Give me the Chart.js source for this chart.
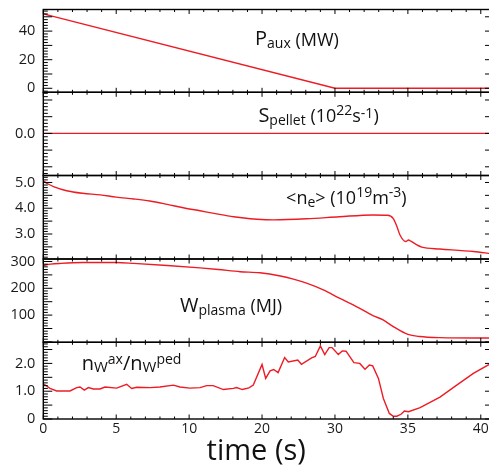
<!DOCTYPE html>
<html>
<head>
<meta charset="utf-8">
<script src="https://cdn.jsdelivr.net/npm/chart.js@4.4.1/dist/chart.umd.min.js"></script>
<style>
  html, body { margin: 0; padding: 0; overflow: hidden; background: #fff; }
  canvas { display: block; }
</style>
</head>
<body>
<canvas id="traces" width="495" height="470"></canvas>
<script>
// labelled time ticks sit at equal spacing along the axis
const timeTicks = [0, 5, 10, 20, 30, 35, 40];
const timeEnd = 40.7;

// y tick labels per panel (top to bottom)
const pauxTicks = ['0', '20', '40'];
const pelletTicks = ['0.0'];
const neTicks = ['3.0', '4.0', '5.0'];
const wTicks = ['100', '200', '300'];
const nwTicks = ['0', '1.0', '2.0'];

// auxiliary heating power, MW
const pauxTime = [0, 30, 40.7];
const pauxValues = [52, 0, 0];

// pellet source, 1e22 /s
const pelletTime = [0, 40.7];
const pelletValues = [0, 0];

// line averaged density, 1e19 m^-3
const neTime = [0, 0.3, 0.7, 1.6, 2.7, 3.9, 5.0, 6.2, 7.3, 8.5, 9.6, 11.5, 13.8, 16.1, 18.4, 19.3,
  21.6, 26.1, 30.3, 32.6, 33.6, 34.0, 34.25, 34.45, 34.85, 35.05, 35.2, 35.95, 37.2, 39.5, 40.7];
const neValues = [5.06, 4.95, 4.84, 4.68, 4.58, 4.52, 4.43, 4.36, 4.28, 4.15, 4.02, 3.90, 3.78, 3.67, 3.59, 3.57,
  3.55, 3.59, 3.67, 3.74, 3.73, 3.60, 3.29, 2.97, 2.71, 2.77, 2.72, 2.49, 2.42, 2.32, 2.24];

// plasma stored energy, MJ
const wTime = [0, 0.5, 1.2, 2.7, 5.0, 6.2, 8.5, 11.5, 14.0, 17.0, 19.7, 22.5, 24.3, 26.1, 28.4, 30.3,
  31.5, 32.6, 33.3, 34.0, 35.0, 35.8, 37.2, 40.7];
const wValues = [285, 290, 293, 296, 296, 293, 285, 276, 270, 262, 258, 246, 234, 219, 194, 163,
  131, 98, 82, 57, 28, 20, 16, 14.5];

// tungsten peaking, axis / pedestal
const nwTime = [0, 0.46, 0.92, 1.83, 2.29, 2.52, 2.81, 3.09, 3.43, 3.89, 4.23, 5.03, 5.72, 6.06, 6.41, 7.32,
  8.0, 8.92, 9.37, 10.1, 11.5, 12.4, 13.3, 14.7, 16.06, 16.5, 17.3, 18.2, 18.8, 20.0, 20.5, 21.1,
  21.6, 22.2, 23.1, 23.6, 24.9, 25.4, 26.8, 27.3, 28.0, 28.6, 29.2, 29.6, 30.23, 30.5, 30.76, 31.3,
  31.7, 32.06, 32.36, 32.59, 32.98, 33.32, 33.73, 34.0, 34.24, 34.53, 34.76, 35.04, 35.84, 37.2, 38.35,
  39.49, 40.7];
const nwValues = [1.27, 1.10, 1.01, 1.01, 1.13, 1.15, 1.04, 1.13, 1.08, 1.08, 1.15, 1.11, 1.25, 1.10, 1.14, 1.13,
  1.15, 1.22, 1.15, 1.11, 1.13, 1.20, 1.20, 1.06, 1.10, 1.13, 1.06, 1.12, 1.22, 1.96, 1.46, 1.73,
  1.78, 1.67, 2.21, 2.05, 2.12, 1.97, 2.20, 2.25, 2.63, 2.32, 2.57, 2.57, 2.32, 2.45, 2.44, 2.03,
  2.00, 1.79, 1.94, 1.91, 1.46, 0.74, 0.20, 0.10, 0.10, 0.17, 0.29, 0.26, 0.41, 0.79, 1.22,
  1.64, 2.00];

const RED = '#ed1c24';
const FONT = '"Open Sans", "Noto Sans", sans-serif';

// piecewise map from seconds to tick slots (one slot per labelled tick)
function timeToAxis(t) {
  const n = timeTicks.length;
  for (let i = 1; i < n; i++) {
    if (t <= timeTicks[i] || i === n - 1) {
      return i - 1 + (t - timeTicks[i - 1]) / (timeTicks[i] - timeTicks[i - 1]);
    }
  }
}

function series(axis, times, values, smooth) {
  return {
    yAxisID: axis,
    data: times.map((t, i) => ({ x: timeToAxis(t), y: values[i] })),
    borderColor: RED,
    borderWidth: 1.4,
    pointRadius: 0,
    cubicInterpolationMode: smooth ? 'monotone' : 'default',
    tension: 0
  };
}

// no extra room for half-labels at the ends, the layout padding handles it
function noPadding(s) {
  s.paddingTop = 0;
  s.paddingBottom = 0;
  s.paddingLeft = 0;
  s.paddingRight = 0;
}

// tick mark spacing for each panel
const panelMarks = {
  y1: { major: 10, minor: 2 },
  y2: { major: 0.5, minor: 0.1 },
  y3: { major: 0.5, minor: 0.1 },
  y4: { major: 50, minor: 10 },
  y5: { major: 0.5, minor: 0.1 }
};

function panelAxis(labels, min, max, weight) {
  return {
    type: 'linear',
    position: 'left',
    stack: 'panels',
    stackWeight: weight,
    min: min,
    max: max,
    grid: { display: false, drawTicks: false },
    border: { display: false },
    afterBuildTicks: s => { s.ticks = labels.map(l => ({ value: Number(l) })); },
    afterFit: s => { s.width = 43.3; noPadding(s); },
    ticks: {
      callback: (v, i) => labels[i],
      padding: 8,
      color: '#1a1a1a',
      font: { family: FONT, size: 14.5 }
    }
  };
}

// panel labels: [axis, x slot, y value, parts of text with size and shift]
const panelLabels = [
  ['y1', 2.904, 30.3, [['P', 20, 0], ['aux', 14, 3], [' (MW)', 18, 1]]],
  ['y2', 2.95, 0.353, [['S', 20, 0], ['pellet', 14, 3], [' (10', 18, 0], ['22', 14, -7], ['s', 18, 0], ['-1', 14, -4], [')', 18, 0]]],
  ['y3', 3.33, 4.155, [['<n', 18, 0], ['e', 14, 3], ['> (10', 18, 0], ['19', 14, -7], ['m', 18, 0], ['-3', 14, -7], [')', 18, 0]]],
  ['y4', 1.875, 112.7, [['W', 20, 0], ['plasma', 14, 3], [' (MJ)', 18, 0]]],
  ['y5', 0.527, 1.755, [['n', 20, 0], ['W', 15, 2], ['ax', 14, -6], ['/n', 20, 0], ['W', 15, 2], ['ped', 14, -6]]]
];

const panelFrames = {
  id: 'panelFrames',
  afterDatasetsDraw(chart) {
    const ctx = chart.ctx;
    const area = chart.chartArea;
    const xs = chart.scales.x;
    ctx.save();
    ctx.strokeStyle = '#000';
    ctx.fillStyle = '#111';

    Object.keys(panelMarks).forEach(id => {
      const s = chart.scales[id];
      const m = panelMarks[id];

      // y ticks, left and right, pointing inward
      ctx.lineWidth = 1;
      ctx.beginPath();
      const k0 = Math.ceil(s.min / m.minor - 1e-6), k1 = Math.floor(s.max / m.minor + 1e-6);
      for (let k = k0; k <= k1; k++) {
        const v = k * m.minor;
        const r = v / m.major;
        const major = Math.abs(r - Math.round(r)) < 1e-6;
        const y = s.getPixelForValue(v);
        ctx.moveTo(area.left, y);
        ctx.lineTo(area.left + (major ? 9 : 4.5), y);
        if (major) {
          ctx.moveTo(area.right, y);
          ctx.lineTo(area.right - 6, y);
        }
      }
      // x ticks on top and bottom edges
      for (let k = 0; k <= Math.floor(xs.max / 0.2 + 1e-6); k++) {
        const u = k * 0.2;
        const major = k % 5 === 0;
        const x = xs.getPixelForValue(u);
        const len = major ? 4.5 : 2.5;
        ctx.moveTo(x, s.top);
        ctx.lineTo(x, s.top + len);
        ctx.moveTo(x, s.bottom);
        ctx.lineTo(x, s.bottom - len);
      }
      ctx.stroke();

      // frame
      ctx.lineWidth = 1.4;
      ctx.strokeRect(area.left, s.top, area.right - area.left, s.bottom - s.top);
    });

    // panel annotations
    ctx.textBaseline = 'alphabetic';
    ctx.textAlign = 'left';
    panelLabels.forEach(([id, u, v, parts]) => {
      let x = xs.getPixelForValue(u);
      const y = chart.scales[id].getPixelForValue(v);
      parts.forEach(([text, size, dy]) => {
        ctx.font = size + 'px ' + FONT;
        ctx.fillText(text, x, y + dy);
        x += ctx.measureText(text).width;
      });
    });

    // axis title
    ctx.font = '29px ' + FONT;
    ctx.textAlign = 'center';
    ctx.fillText('time (s)', xs.getPixelForValue(2.92), 460);
    ctx.restore();
  }
};

new Chart(document.getElementById('traces'), {
  type: 'line',
  data: {
    datasets: [
      series('y1', pauxTime, pauxValues, false),
      series('y2', pelletTime, pelletValues, false),
      series('y3', neTime, neValues, true),
      series('y4', wTime, wValues, true),
      series('y5', nwTime, nwValues, false)
    ]
  },
  options: {
    responsive: false,
    animation: false,
    layout: { padding: { top: 9.5, right: 4, left: 0, bottom: 0 } },
    plugins: { legend: { display: false }, tooltip: { enabled: false } },
    scales: {
      x: {
        type: 'linear',
        min: 0,
        max: timeToAxis(timeEnd),
        grid: { display: false, drawTicks: false },
        border: { display: false },
        afterBuildTicks: s => { s.ticks = timeTicks.map(t => ({ value: timeToAxis(t) })); },
        afterFit: s => { s.height = 51; noPadding(s); },
        ticks: {
          callback: (v, i) => String(timeTicks[i]),
          autoSkip: false,
          maxRotation: 0,
          padding: 2,
          color: '#1a1a1a',
          font: { family: FONT, size: 14 }
        }
      },
      // stacked bottom first, so the last one ends up on top
      y5: panelAxis(nwTicks, 0, 2.76, 76.7),
      y4: panelAxis(wTicks, -1.5, 309.3, 83.3),
      y3: panelAxis(neTicks, 2.03, 5.27, 83.5),
      y2: panelAxis(pelletTicks, -1.26, 1.23, 83.2),
      y1: panelAxis(pauxTicks, -2.8, 55.1, 82.8)
    }
  },
  plugins: [panelFrames]
});
</script>
</body>
</html>
